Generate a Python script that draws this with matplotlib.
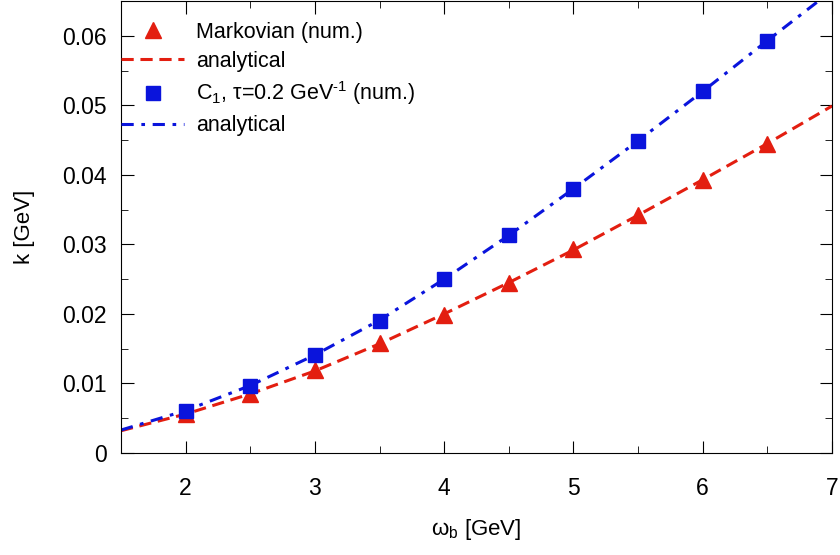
import numpy as np
import matplotlib.pyplot as plt
from matplotlib.ticker import MultipleLocator

plt.rcParams['font.family'] = ['Liberation Sans', 'DejaVu Sans']
plt.rcParams['mathtext.fontset'] = 'custom'
plt.rcParams['mathtext.rm'] = 'Liberation Sans'
plt.rcParams['mathtext.it'] = 'Liberation Sans'

# numerical points
w_num = [2.0, 2.5, 3.0, 3.5, 4.0, 4.5, 5.0, 5.5, 6.0, 6.5]
k_markov = [0.0056, 0.0085, 0.0119, 0.0158, 0.0199, 0.0244, 0.0293, 0.0342, 0.0392, 0.0445]
k_c1 = [0.0060, 0.0096, 0.0141, 0.0190, 0.0250, 0.0313, 0.0380, 0.0449, 0.0520, 0.0593]

# analytical curves
w_an = [1.5, 2.0, 2.5, 3.0, 3.5, 4.0, 4.5, 5.0, 5.5, 6.0, 6.5, 7.0]
k_markov_an = [0.0032, 0.0056, 0.0085, 0.0118, 0.0157, 0.0200, 0.0245, 0.0292, 0.0342, 0.0393, 0.0445, 0.0499]
k_c1_an = [0.0033, 0.0061, 0.0097, 0.0141, 0.0191, 0.0250, 0.0313, 0.0380, 0.0449, 0.0520, 0.0593, 0.0665]

red = '#e31e10'
blue = '#0a14dc'
fs = 15.5

fig = plt.figure(figsize=(8.4, 5.55), dpi=100)
ax = fig.add_axes([121 / 840, 1 - 453 / 555, 711 / 840, 452 / 555])

ax.plot(w_num, k_markov, '^', color=red, ms=11, label='Markovian (num.)', zorder=3)
ax.plot(w_an, k_markov_an, '--', color=red, lw=2.2, dashes=(4, 2.2), label='analytical')
ax.plot(w_num, k_c1, 's', color=blue, ms=10.5, label=r'C$_1$, τ=0.2 GeV$^{\mathregular{\text{-}1}}$ (num.)', zorder=3)
ax.plot(w_an, k_c1_an, '-.', color=blue, lw=2.2, dashes=(4, 2.5, 1.2, 2.5), label='analytical')

ax.set_xlim(1.5, 7)
ax.set_ylim(0, 0.065)
ax.xaxis.set_major_locator(MultipleLocator(1))
ax.xaxis.set_minor_locator(MultipleLocator(0.5))
ax.yaxis.set_minor_locator(MultipleLocator(0.005))
ax.set_yticks(np.arange(0, 0.061, 0.01))
ax.set_yticklabels(['0', '0.01', '0.02', '0.03', '0.04', '0.05', '0.06'])
ax.tick_params(which='both', direction='in', top=True, right=True, labelsize=16.5)
ax.tick_params(axis='y', pad=10)
ax.tick_params(axis='x', pad=17.5)
ax.tick_params(which='major', length=9)
ax.tick_params(which='minor', length=5)

ax.set_xlabel(r'ω$_\mathregular{b}$ [GeV]', fontsize=16, labelpad=12)
ax.set_ylabel('k [GeV]', fontsize=16, labelpad=20)

ax.legend(loc='upper left', bbox_to_anchor=(0.0, 1 - 21 / 452), frameon=False,
          fontsize=fs, handlelength=2.93, handletextpad=0.56,
          borderaxespad=0, borderpad=0, labelspacing=0.36)

fig.savefig('out.png', dpi=100)
